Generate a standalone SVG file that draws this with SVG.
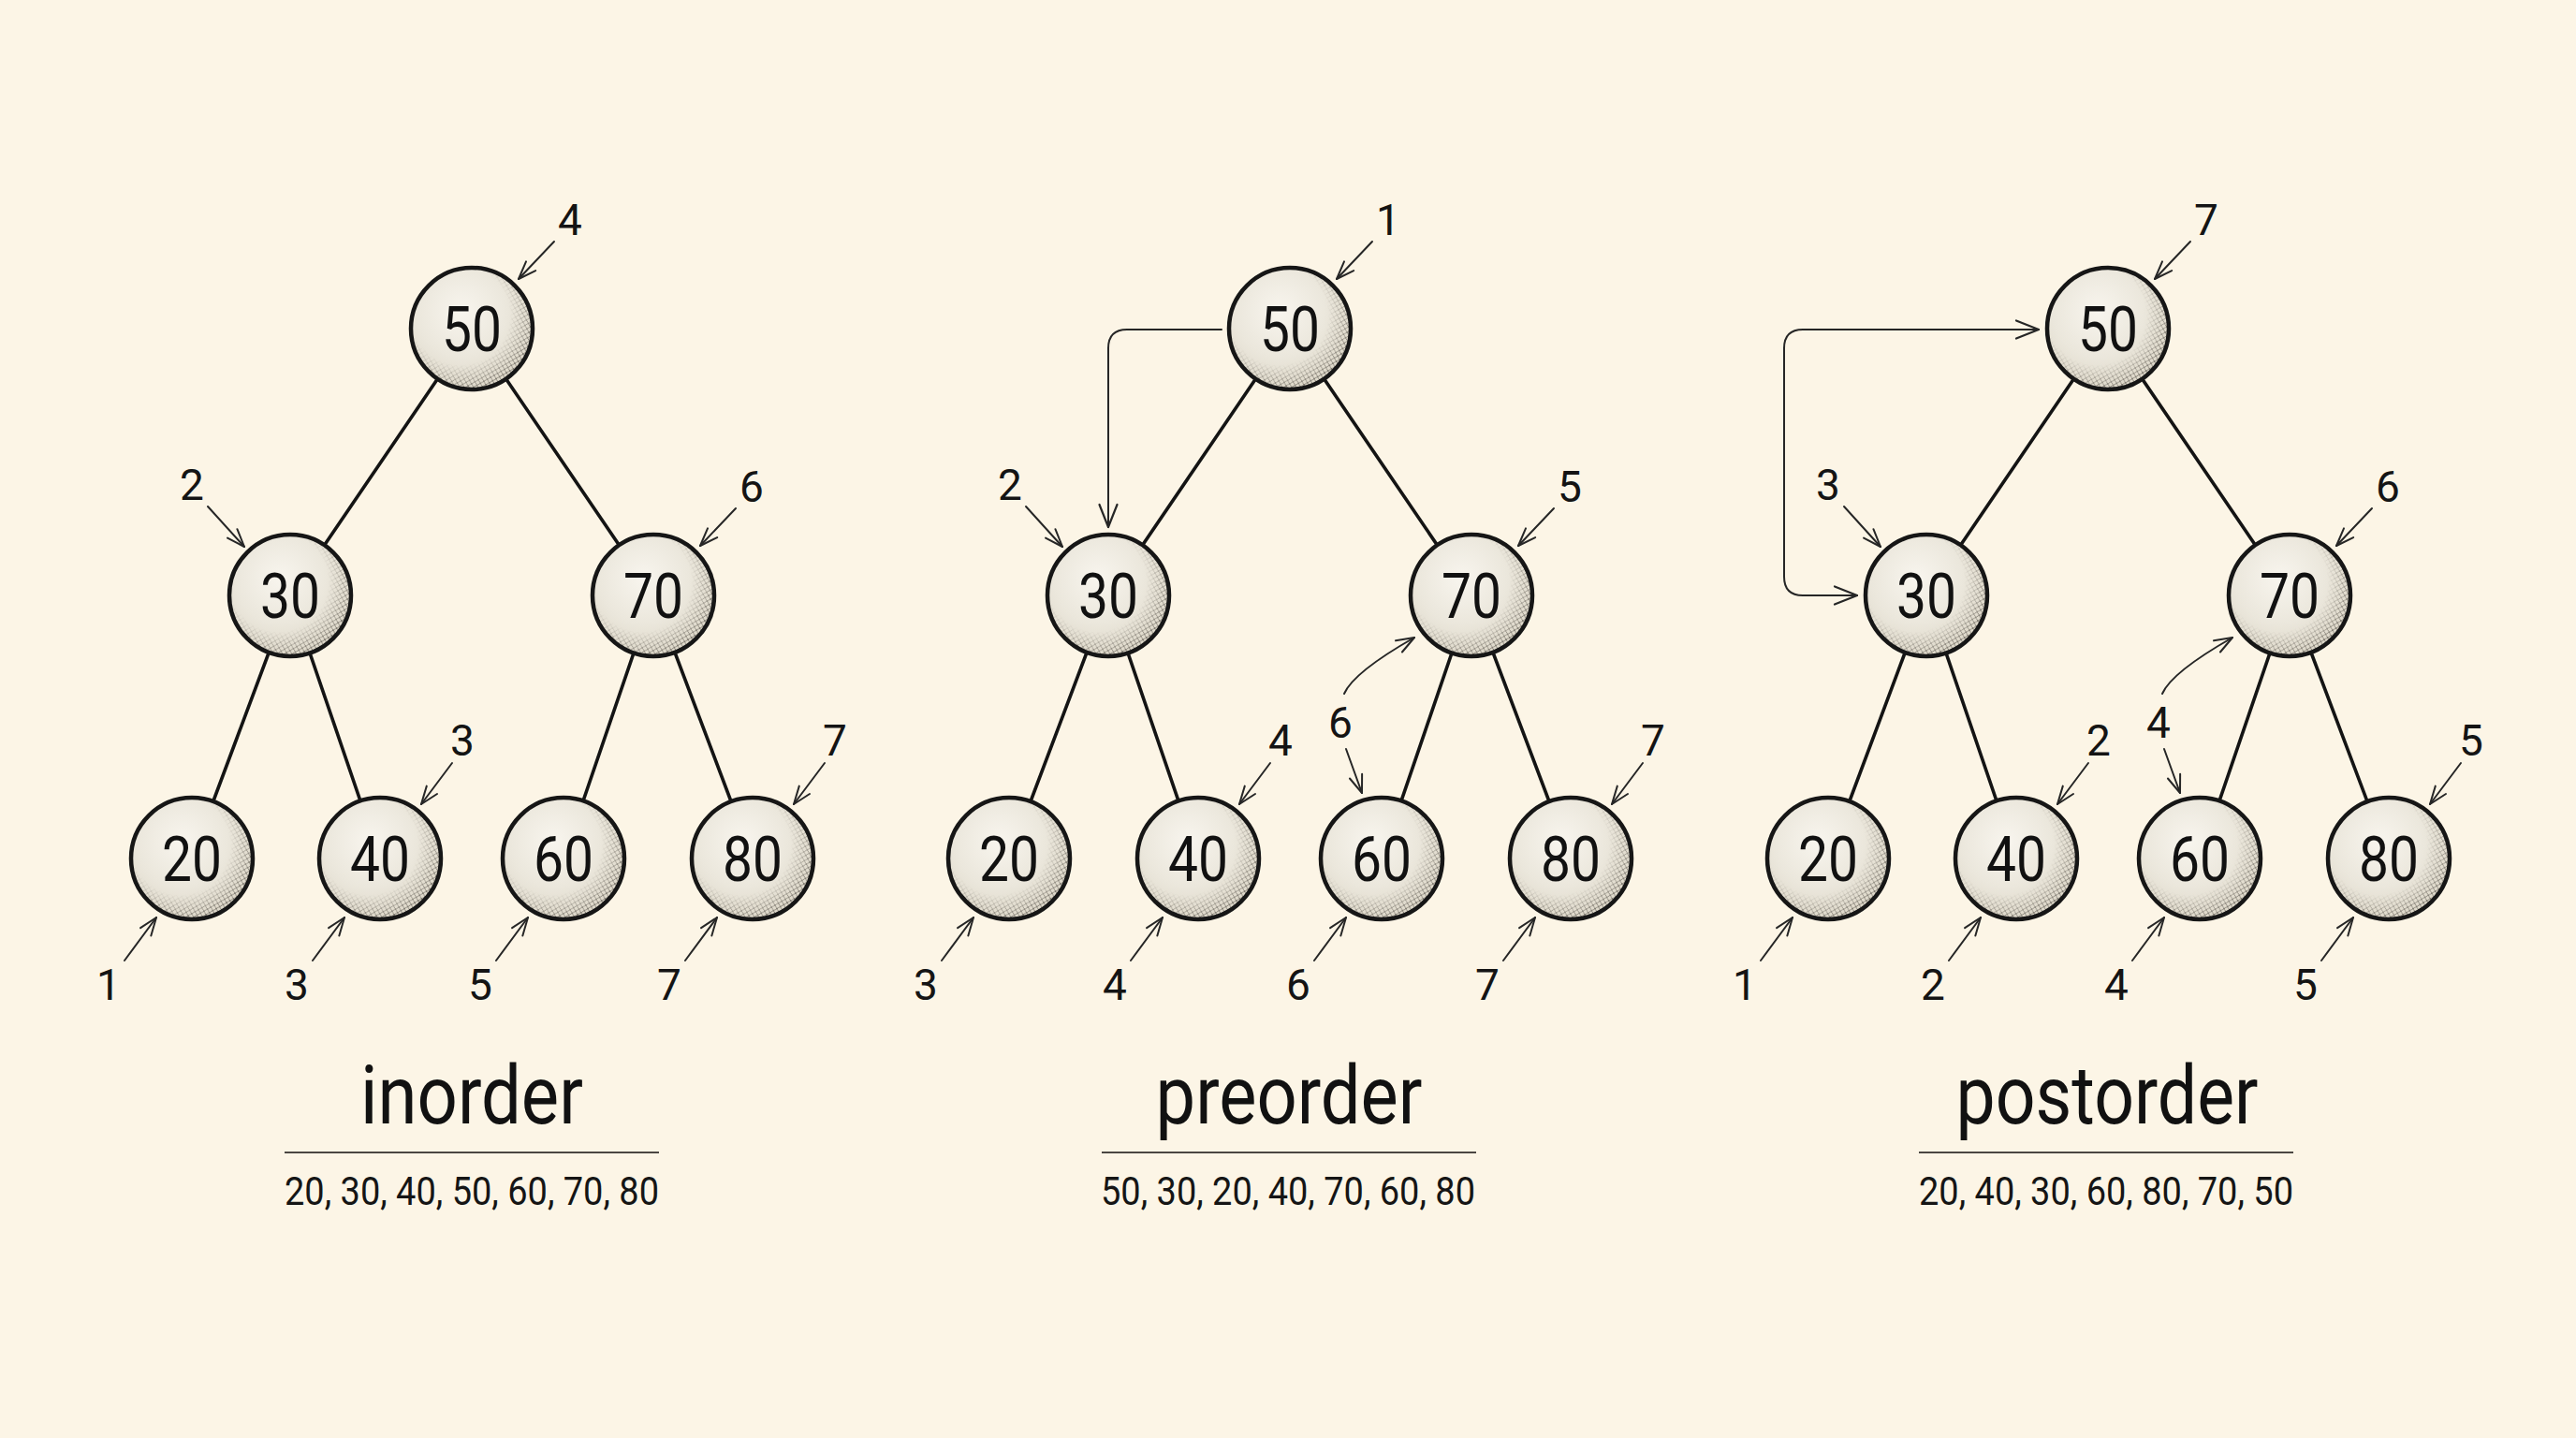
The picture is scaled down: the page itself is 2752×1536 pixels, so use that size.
<svg xmlns="http://www.w3.org/2000/svg" xmlns:xlink="http://www.w3.org/1999/xlink" width="2752" height="1536" viewBox="0 0 2752 1536">
<style>
.edge{stroke:#141414;stroke-width:3.6;stroke-linecap:round;fill:none}
.ann{stroke:#262626;stroke-width:2;fill:none;stroke-linecap:round;marker-end:url(#ah)}
.conn{stroke:#262626;stroke-width:2;fill:none;stroke-linecap:round}
.num{font-family:Roboto,"Liberation Sans",sans-serif;font-size:67px;fill:#111;text-anchor:middle}
.lbl{font-family:Roboto,"Liberation Sans",sans-serif;font-size:46px;fill:#141414;text-anchor:middle}
.title{font-family:Roboto,"Liberation Sans",sans-serif;font-size:88px;fill:#111;text-anchor:middle}
.seq{font-family:Roboto,"Liberation Sans",sans-serif;font-size:42px;fill:#151515;text-anchor:middle}
.rule{stroke:#4a4742;stroke-width:2.2}
.rim{fill:none;stroke:#161616;stroke-width:4.5}
</style>
<defs>
<radialGradient id="ballFill" cx="0.42" cy="0.36" r="0.68">
<stop offset="0" stop-color="#f8f5ee"/>
<stop offset="0.55" stop-color="#ebe7dc"/>
<stop offset="1" stop-color="#dcd6c7"/>
</radialGradient>
<pattern id="hatch" patternUnits="userSpaceOnUse" width="6" height="6" patternTransform="rotate(15)">
<path d="M0,0 L6,6 M6,0 L0,6" stroke="#2c2822" stroke-width="0.7"/>
</pattern>
<radialGradient id="shadeGrad" gradientUnits="userSpaceOnUse" cx="-12" cy="-14" r="82">
<stop offset="0.64" stop-color="#000"/>
<stop offset="0.96" stop-color="#fff"/>
</radialGradient>
<mask id="shadeMask" maskUnits="userSpaceOnUse" x="-70" y="-70" width="140" height="140">
<circle r="64" fill="url(#shadeGrad)"/>
</mask>
<g id="ball">
<circle r="65" fill="url(#ballFill)"/>
<circle r="64" fill="url(#hatch)" mask="url(#shadeMask)" opacity="0.75"/>
<circle r="65" class="rim"/>
</g>
<marker id="ah" markerUnits="userSpaceOnUse" markerWidth="28" markerHeight="24" viewBox="-24 -12 28 24" refX="0" refY="0" orient="auto-start-reverse">
<path d="M-19,-7 L0,0 L-19,7" fill="none" stroke="#262626" stroke-width="2" stroke-linecap="round" stroke-linejoin="round"/>
</marker>
<marker id="ah2" markerUnits="userSpaceOnUse" markerWidth="32" markerHeight="26" viewBox="-28 -13 32 26" refX="0" refY="0" orient="auto-start-reverse">
<path d="M-24,-9.5 L0,0 L-24,9.5" fill="none" stroke="#262626" stroke-width="2.2" stroke-linecap="round" stroke-linejoin="round"/>
</marker>
</defs>

<rect width="2752" height="1536" fill="#fcf5e6"/>

<g id="connectors">
<!-- tree edges: inorder -->
<line class="edge" x1="504" y1="351" x2="310" y2="636"/>
<line class="edge" x1="504" y1="351" x2="698" y2="636"/>
<line class="edge" x1="310" y1="636" x2="205" y2="917"/>
<line class="edge" x1="310" y1="636" x2="406" y2="917"/>
<line class="edge" x1="698" y1="636" x2="602" y2="917"/>
<line class="edge" x1="698" y1="636" x2="804" y2="917"/>
<!-- preorder -->
<line class="edge" x1="1378" y1="351" x2="1184" y2="636"/>
<line class="edge" x1="1378" y1="351" x2="1572" y2="636"/>
<line class="edge" x1="1184" y1="636" x2="1078" y2="917"/>
<line class="edge" x1="1184" y1="636" x2="1280" y2="917"/>
<line class="edge" x1="1572" y1="636" x2="1476" y2="917"/>
<line class="edge" x1="1572" y1="636" x2="1678" y2="917"/>
<!-- postorder -->
<line class="edge" x1="2252" y1="351" x2="2058" y2="636"/>
<line class="edge" x1="2252" y1="351" x2="2446" y2="636"/>
<line class="edge" x1="2058" y1="636" x2="1953" y2="917"/>
<line class="edge" x1="2058" y1="636" x2="2154" y2="917"/>
<line class="edge" x1="2446" y1="636" x2="2350" y2="917"/>
<line class="edge" x1="2446" y1="636" x2="2552" y2="917"/>

<!-- traversal connectors -->
<path class="conn" d="M1305,352 H1204 Q1184,352 1184,372 V563" marker-end="url(#ah2)"/>
<path class="conn" d="M1984,636 H1926 Q1906,636 1906,616 V372 Q1906,352 1926,352 H2178" marker-start="url(#ah2)" marker-end="url(#ah2)"/>

<!-- annotation arrows: inorder -->
<line class="ann" x1="592" y1="258" x2="554" y2="298"/>
<line class="ann" x1="222" y1="541" x2="261" y2="584"/>
<line class="ann" x1="786" y1="543" x2="748" y2="583"/>
<line class="ann" x1="483" y1="815" x2="450" y2="859"/>
<line class="ann" x1="881" y1="815" x2="848" y2="859"/>
<line class="ann" x1="133" y1="1026" x2="167" y2="980"/>
<line class="ann" x1="334" y1="1026" x2="368" y2="980"/>
<line class="ann" x1="530" y1="1026" x2="564" y2="980"/>
<line class="ann" x1="732" y1="1026" x2="766" y2="980"/>
<!-- preorder -->
<line class="ann" x1="1466" y1="258" x2="1428" y2="298"/>
<line class="ann" x1="1096" y1="541" x2="1135" y2="584"/>
<line class="ann" x1="1660" y1="543" x2="1622" y2="583"/>
<line class="ann" x1="1357" y1="815" x2="1324" y2="859"/>
<line class="ann" x1="1755" y1="815" x2="1722" y2="859"/>
<line class="ann" x1="1438" y1="800" x2="1455" y2="847"/>
<path class="ann" d="M1436,741 Q1446,718 1511,681"/>
<line class="ann" x1="1006" y1="1026" x2="1040" y2="980"/>
<line class="ann" x1="1208" y1="1026" x2="1242" y2="980"/>
<line class="ann" x1="1404" y1="1026" x2="1438" y2="980"/>
<line class="ann" x1="1606" y1="1026" x2="1640" y2="980"/>
<!-- postorder -->
<line class="ann" x1="2340" y1="258" x2="2302" y2="298"/>
<line class="ann" x1="1970" y1="541" x2="2009" y2="584"/>
<line class="ann" x1="2534" y1="543" x2="2496" y2="583"/>
<line class="ann" x1="2231" y1="815" x2="2198" y2="859"/>
<line class="ann" x1="2629" y1="815" x2="2596" y2="859"/>
<line class="ann" x1="2312" y1="800" x2="2329" y2="847"/>
<path class="ann" d="M2310,741 Q2320,718 2385,681"/>
<line class="ann" x1="1881" y1="1026" x2="1915" y2="980"/>
<line class="ann" x1="2082" y1="1026" x2="2116" y2="980"/>
<line class="ann" x1="2278" y1="1026" x2="2312" y2="980"/>
<line class="ann" x1="2480" y1="1026" x2="2514" y2="980"/>
</g>

<!-- inorder nodes -->
<g id="in-50"><use href="#ball" x="504" y="351"/><text class="num" x="504" y="375" textLength="64" lengthAdjust="spacingAndGlyphs">50</text></g>
<g id="in-30"><use href="#ball" x="310" y="636"/><text class="num" x="310" y="660" textLength="64" lengthAdjust="spacingAndGlyphs">30</text></g>
<g id="in-70"><use href="#ball" x="698" y="636"/><text class="num" x="698" y="660" textLength="64" lengthAdjust="spacingAndGlyphs">70</text></g>
<g id="in-20"><use href="#ball" x="205" y="917"/><text class="num" x="205" y="941" textLength="64" lengthAdjust="spacingAndGlyphs">20</text></g>
<g id="in-40"><use href="#ball" x="406" y="917"/><text class="num" x="406" y="941" textLength="64" lengthAdjust="spacingAndGlyphs">40</text></g>
<g id="in-60"><use href="#ball" x="602" y="917"/><text class="num" x="602" y="941" textLength="64" lengthAdjust="spacingAndGlyphs">60</text></g>
<g id="in-80"><use href="#ball" x="804" y="917"/><text class="num" x="804" y="941" textLength="64" lengthAdjust="spacingAndGlyphs">80</text></g>

<!-- preorder nodes -->
<g id="pre-50"><use href="#ball" x="1378" y="351"/><text class="num" x="1378" y="375" textLength="64" lengthAdjust="spacingAndGlyphs">50</text></g>
<g id="pre-30"><use href="#ball" x="1184" y="636"/><text class="num" x="1184" y="660" textLength="64" lengthAdjust="spacingAndGlyphs">30</text></g>
<g id="pre-70"><use href="#ball" x="1572" y="636"/><text class="num" x="1572" y="660" textLength="64" lengthAdjust="spacingAndGlyphs">70</text></g>
<g id="pre-20"><use href="#ball" x="1078" y="917"/><text class="num" x="1078" y="941" textLength="64" lengthAdjust="spacingAndGlyphs">20</text></g>
<g id="pre-40"><use href="#ball" x="1280" y="917"/><text class="num" x="1280" y="941" textLength="64" lengthAdjust="spacingAndGlyphs">40</text></g>
<g id="pre-60"><use href="#ball" x="1476" y="917"/><text class="num" x="1476" y="941" textLength="64" lengthAdjust="spacingAndGlyphs">60</text></g>
<g id="pre-80"><use href="#ball" x="1678" y="917"/><text class="num" x="1678" y="941" textLength="64" lengthAdjust="spacingAndGlyphs">80</text></g>

<!-- postorder nodes -->
<g id="post-50"><use href="#ball" x="2252" y="351"/><text class="num" x="2252" y="375" textLength="64" lengthAdjust="spacingAndGlyphs">50</text></g>
<g id="post-30"><use href="#ball" x="2058" y="636"/><text class="num" x="2058" y="660" textLength="64" lengthAdjust="spacingAndGlyphs">30</text></g>
<g id="post-70"><use href="#ball" x="2446" y="636"/><text class="num" x="2446" y="660" textLength="64" lengthAdjust="spacingAndGlyphs">70</text></g>
<g id="post-20"><use href="#ball" x="1953" y="917"/><text class="num" x="1953" y="941" textLength="64" lengthAdjust="spacingAndGlyphs">20</text></g>
<g id="post-40"><use href="#ball" x="2154" y="917"/><text class="num" x="2154" y="941" textLength="64" lengthAdjust="spacingAndGlyphs">40</text></g>
<g id="post-60"><use href="#ball" x="2350" y="917"/><text class="num" x="2350" y="941" textLength="64" lengthAdjust="spacingAndGlyphs">60</text></g>
<g id="post-80"><use href="#ball" x="2552" y="917"/><text class="num" x="2552" y="941" textLength="64" lengthAdjust="spacingAndGlyphs">80</text></g>

<g id="order-labels">
<!-- inorder -->
<text class="lbl" x="609" y="251">4</text>
<text class="lbl" x="205" y="534">2</text>
<text class="lbl" x="803" y="536">6</text>
<text class="lbl" x="494" y="807">3</text>
<text class="lbl" x="892" y="807">7</text>
<text class="lbl" x="116" y="1068">1</text>
<text class="lbl" x="317" y="1068">3</text>
<text class="lbl" x="513" y="1068">5</text>
<text class="lbl" x="715" y="1068">7</text>
<!-- preorder -->
<text class="lbl" x="1483" y="251">1</text>
<text class="lbl" x="1079" y="534">2</text>
<text class="lbl" x="1677" y="536">5</text>
<text class="lbl" x="1368" y="807">4</text>
<text class="lbl" x="1766" y="807">7</text>
<text class="lbl" x="1432" y="788">6</text>
<text class="lbl" x="989" y="1068">3</text>
<text class="lbl" x="1191" y="1068">4</text>
<text class="lbl" x="1387" y="1068">6</text>
<text class="lbl" x="1589" y="1068">7</text>
<!-- postorder -->
<text class="lbl" x="2357" y="251">7</text>
<text class="lbl" x="1953" y="534">3</text>
<text class="lbl" x="2551" y="536">6</text>
<text class="lbl" x="2242" y="807">2</text>
<text class="lbl" x="2640" y="807">5</text>
<text class="lbl" x="2306" y="788">4</text>
<text class="lbl" x="1864" y="1068">1</text>
<text class="lbl" x="2065" y="1068">2</text>
<text class="lbl" x="2261" y="1068">4</text>
<text class="lbl" x="2463" y="1068">5</text>
</g>

<g id="captions">
<text class="title" x="504" y="1200" textLength="238" lengthAdjust="spacingAndGlyphs">inorder</text>
<line class="rule" x1="304" y1="1231" x2="704" y2="1231"/>
<text class="seq" x="504" y="1287" textLength="400" lengthAdjust="spacingAndGlyphs">20, 30, 40, 50, 60, 70, 80</text>

<text class="title" x="1377" y="1200" textLength="285" lengthAdjust="spacingAndGlyphs">preorder</text>
<line class="rule" x1="1177" y1="1231" x2="1577" y2="1231"/>
<text class="seq" x="1376" y="1287" textLength="400" lengthAdjust="spacingAndGlyphs">50, 30, 20, 40, 70, 60, 80</text>

<text class="title" x="2251" y="1200" textLength="323" lengthAdjust="spacingAndGlyphs">postorder</text>
<line class="rule" x1="2050" y1="1231" x2="2450" y2="1231"/>
<text class="seq" x="2250" y="1287" textLength="400" lengthAdjust="spacingAndGlyphs">20, 40, 30, 60, 80, 70, 50</text>
</g>
</svg>
